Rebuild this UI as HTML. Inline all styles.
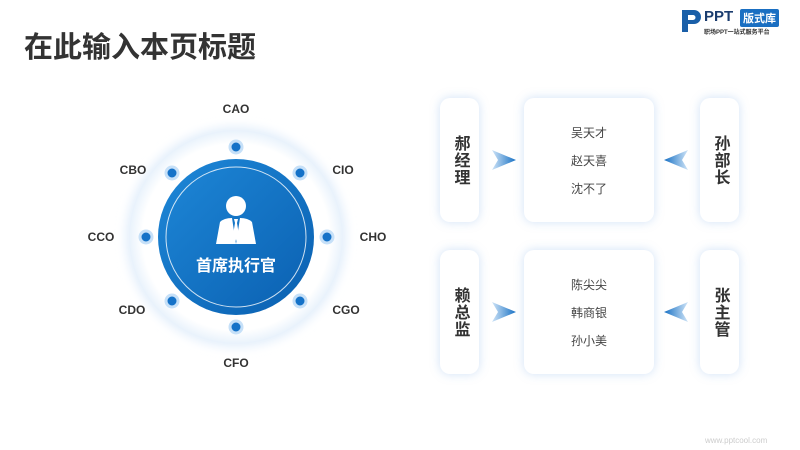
<!DOCTYPE html>
<html><head><meta charset="utf-8"><style>
body{margin:0;width:800px;height:450px;background:#fff;position:relative;overflow:hidden;font-family:"Liberation Sans","Noto Sans CJK SC",sans-serif;}
.a{position:absolute;}
.t{font-size:29px;font-weight:bold;color:#333;left:24px;top:24px;}
.lbl{position:absolute;font-size:12px;font-weight:bold;color:#333;transform:translate(-50%,-50%);}
.box{position:absolute;background:#fff;border-radius:10px;box-shadow:0 0 10px rgba(120,170,230,.35);}
.v{font-size:16px;font-weight:bold;color:#333;writing-mode:vertical-rl;display:flex;align-items:center;justify-content:center;line-height:20px;letter-spacing:1px}
.m{display:flex;flex-direction:column;align-items:center;justify-content:center;gap:11px;font-size:12px;color:#444}
</style></head><body>
<div class="a t">在此输入本页标题</div>
<div class="a" style="left:680px;top:8px;width:20px;height:24px">
<svg width="22" height="26"><path d="M2 2h12a7 7 0 0 1 0 14h-6v8h-6z" fill="#1a5fa8"/><path d="M8 7h5a2.5 2.5 0 0 1 0 5h-5z" fill="#fff"/></svg></div>
<div class="a" style="left:704px;top:8px;font-size:15px;font-weight:bold;color:#1a3c6e">PPT</div>
<div class="a" style="left:740px;top:9px;background:#1a6fc2;color:#fff;font-size:11px;padding:1px 3px;border-radius:2px;font-weight:bold">版式库</div>
<div class="a" style="left:704px;top:27px;font-size:6px;color:#333;font-weight:bold">职场PPT一站式服务平台</div>
<div class="a" style="left:705px;top:436px;font-size:8px;color:#ccc">www.pptcool.com</div>

<svg class="a" style="left:0;top:0" width="420" height="450">
<defs>
<radialGradient id="og" cx="50%" cy="50%" r="50%"><stop offset="88%" stop-color="#fff"/><stop offset="100%" stop-color="#eaf3fc"/></radialGradient>
<linearGradient id="bg" x1="0" y1="0" x2="1" y2="1"><stop offset="0" stop-color="#1e88d8"/><stop offset="1" stop-color="#0a5fb0"/></linearGradient>
<filter id="sh"><feGaussianBlur stdDeviation="5"/></filter>
</defs>
<circle cx="236" cy="237" r="110" fill="#e2eefb" filter="url(#sh)"/>
<circle cx="236" cy="237" r="106" fill="url(#og)"/>
<circle cx="236" cy="237" r="78" fill="url(#bg)"/>
<circle cx="236" cy="237" r="70" fill="none" stroke="#fff" stroke-width="1" opacity=".8"/>
<g fill="#1572c8" stroke="#c6e0f8" stroke-width="3">
<circle cx="236" cy="147" r="6"/><circle cx="300" cy="173" r="6"/><circle cx="327" cy="237" r="6"/><circle cx="300" cy="301" r="6"/>
<circle cx="236" cy="327" r="6"/><circle cx="172" cy="301" r="6"/><circle cx="146" cy="237" r="6"/><circle cx="172" cy="173" r="6"/>
</g>
<circle cx="236" cy="206" r="10" fill="#fff"/>
<path d="M216 244 L220 222 Q224 218 232 218 L236 244 Z M256 244 L252 222 Q248 218 240 218 L236 244 Z" fill="#fff"/>
<path d="M234 219h4l-1 4 2 12-3 6-3-6 2-12z" fill="#fff"/>
<text x="236" y="271" fill="#fff" font-size="16" font-weight="bold" text-anchor="middle" font-family="Liberation Sans,Noto Sans CJK SC,sans-serif">首席执行官</text>
</svg>
<div class="lbl" style="left:236px;top:109px">CAO</div>
<div class="lbl" style="left:343px;top:170px">CIO</div>
<div class="lbl" style="left:373px;top:237px">CHO</div>
<div class="lbl" style="left:346px;top:310px">CGO</div>
<div class="lbl" style="left:236px;top:363px">CFO</div>
<div class="lbl" style="left:132px;top:310px">CDO</div>
<div class="lbl" style="left:101px;top:237px">CCO</div>
<div class="lbl" style="left:133px;top:170px">CBO</div>

<div class="box v" style="left:440px;top:98px;width:39px;height:124px">郝经理</div>
<div class="box m" style="left:524px;top:98px;width:130px;height:124px"><span>吴天才</span><span>赵天喜</span><span>沈不了</span></div>
<div class="box v" style="left:700px;top:98px;width:39px;height:124px">孙部长</div>
<div class="box v" style="left:440px;top:250px;width:39px;height:124px">赖总监</div>
<div class="box m" style="left:524px;top:250px;width:130px;height:124px"><span>陈尖尖</span><span>韩商银</span><span>孙小美</span></div>
<div class="box v" style="left:700px;top:250px;width:39px;height:124px">张主管</div>

<svg class="a" style="left:0;top:0" width="800" height="450">
<defs>
<linearGradient id="ar" x1="0" x2="1"><stop offset="0" stop-color="#cfe4f7"/><stop offset="1" stop-color="#1670c4"/></linearGradient>
<linearGradient id="al" x1="1" x2="0"><stop offset="0" stop-color="#cfe4f7"/><stop offset="1" stop-color="#1670c4"/></linearGradient>
</defs>
<path d="M492 150 L516 160 L492 170 L498 160Z" fill="url(#ar)"/>
<path d="M492 302 L516 312 L492 322 L498 312Z" fill="url(#ar)"/>
<path d="M688 150 L664 160 L688 170 L682 160Z" fill="url(#al)"/>
<path d="M688 302 L664 312 L688 322 L682 312Z" fill="url(#al)"/>
</svg>
</body></html>
